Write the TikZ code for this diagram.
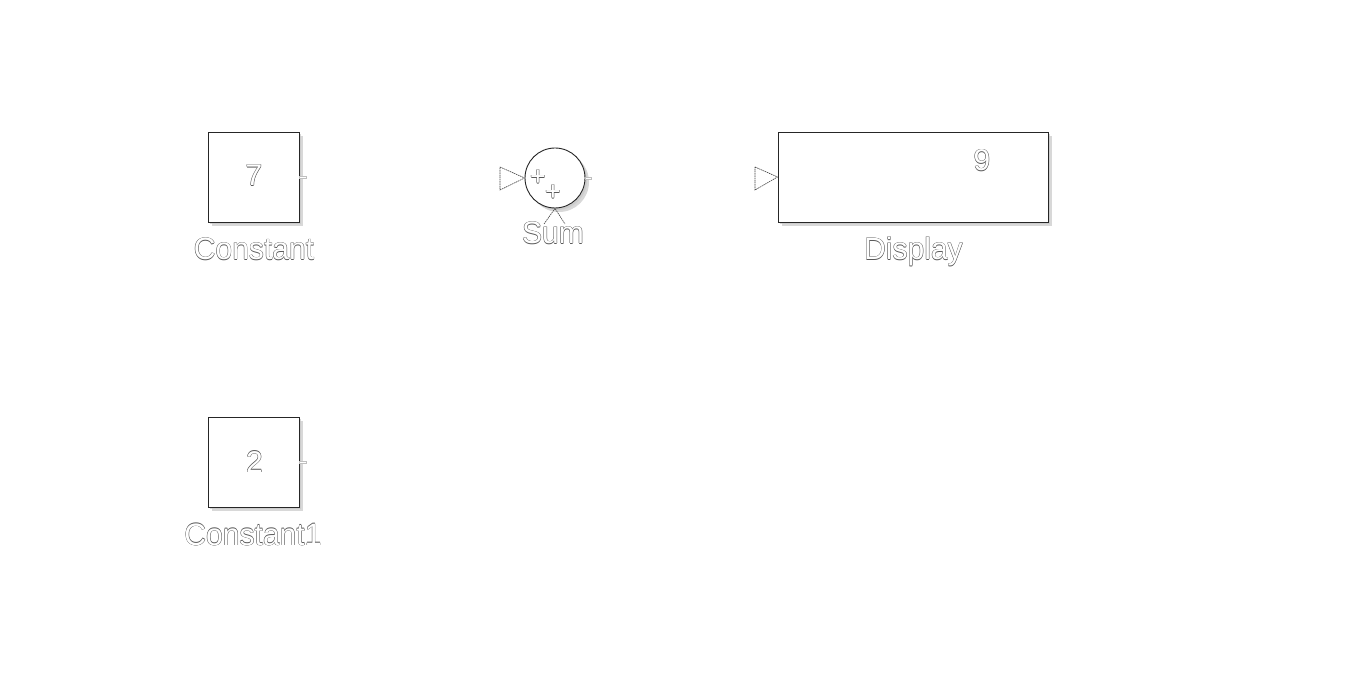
\documentclass[tikz,border=0pt]{standalone}
\usepackage{fontspec}
\setmainfont{Liberation Sans}
\usetikzlibrary{shadows}
\definecolor{olc}{gray}{0.35}
\newcommand\olx[1]{%
  \makebox[0pt][l]{\kern-.45pt\textcolor{olc}{#1}}%
  \makebox[0pt][l]{\kern.45pt\textcolor{olc}{#1}}%
  \makebox[0pt][l]{\raisebox{.45pt}{\textcolor{olc}{#1}}}%
  \makebox[0pt][l]{\raisebox{-.45pt}{\textcolor{olc}{#1}}}%
  \textcolor{white}{#1}}
\tikzset{
  blk/.style={draw=black!85, line width=0.9pt, fill=white, inner sep=0pt,
    double copy shadow={shadow xshift=2pt, shadow yshift=-2pt, fill=black!22, draw=none, opacity=0.7}},
  lbl/.style={anchor=base, inner sep=0pt, xscale=0.97, transform shape,
    font=\fontsize{31}{31}\selectfont},
  dig/.style={anchor=base, inner sep=0pt, font=\fontsize{30}{30}\selectfont},
  plus/.style={anchor=center, inner sep=0pt, font=\fontsize{27}{27}\selectfont},
  port/.style={draw=black!75, line width=0.6pt, dash pattern=on 1.5pt off 0.7pt, fill=white},
  outp/.style={draw=black!25, line width=0.4pt, fill=white}
}
\begin{document}
\begin{tikzpicture}[x=1pt, y=-1pt]
\useasboundingbox (0,0) rectangle (1371,676);
% Constant
\node[blk, minimum width=91pt, minimum height=90pt] (c0) at (253.5,177) {};
\node[dig] (c0v) at (254,186) {\olx{7}};
\node[lbl] (c0l) at (254,260) {\olx{Constant}};
\coordinate (c0o) at ([xshift=7pt]c0.east);
\filldraw[outp] ([yshift=1.2pt]c0.east) rectangle ([yshift=-1.2pt]c0o);
% Constant1
\node[blk, minimum width=91pt, minimum height=90pt] (c1) at (253.5,462) {};
\node[dig] (c1v) at (254.5,472) {\olx{2}};
\node[lbl] (c1l) at (253,545) {\olx{Constant1}};
\coordinate (c1o) at ([xshift=7pt]c1.east);
\filldraw[outp] ([yshift=1.2pt]c1.east) rectangle ([yshift=-1.2pt]c1o);
% Sum
\node[blk, circle, minimum size=60pt] (sum) at (555,178) {};
\node[plus] (p1) at (538,178) {\olx{+}};
\node[plus] (p2) at (553,193) {\olx{+}};
\coordinate (sa) at (500,167);
\coordinate (sb) at (500,190);
\draw[port] (sa) -- (sum.west) -- (sb) -- cycle;
\coordinate (sc) at (544,224);
\coordinate (sd) at (565,224);
\draw[port, fill=none] (sc) -- (sum.south) -- (sd);
\coordinate (so) at ([xshift=6pt]sum.east);
\filldraw[outp] ([yshift=1.2pt]sum.east) rectangle ([yshift=-1.2pt]so);
\node[lbl] (suml) at (553,244) {\olx{Sum}};
% Display
\node[blk, minimum width=270pt, minimum height=90pt] (disp) at (913,177) {};
\node[dig] (dv) at (982,171) {\olx{9}};
\coordinate (da) at (755,167);
\coordinate (db) at (755,190);
\draw[port] (da) -- (disp.west) -- (db) -- cycle;
\node[lbl] (displ) at (913.5,260) {\olx{Display}};
\end{tikzpicture}
\end{document}
